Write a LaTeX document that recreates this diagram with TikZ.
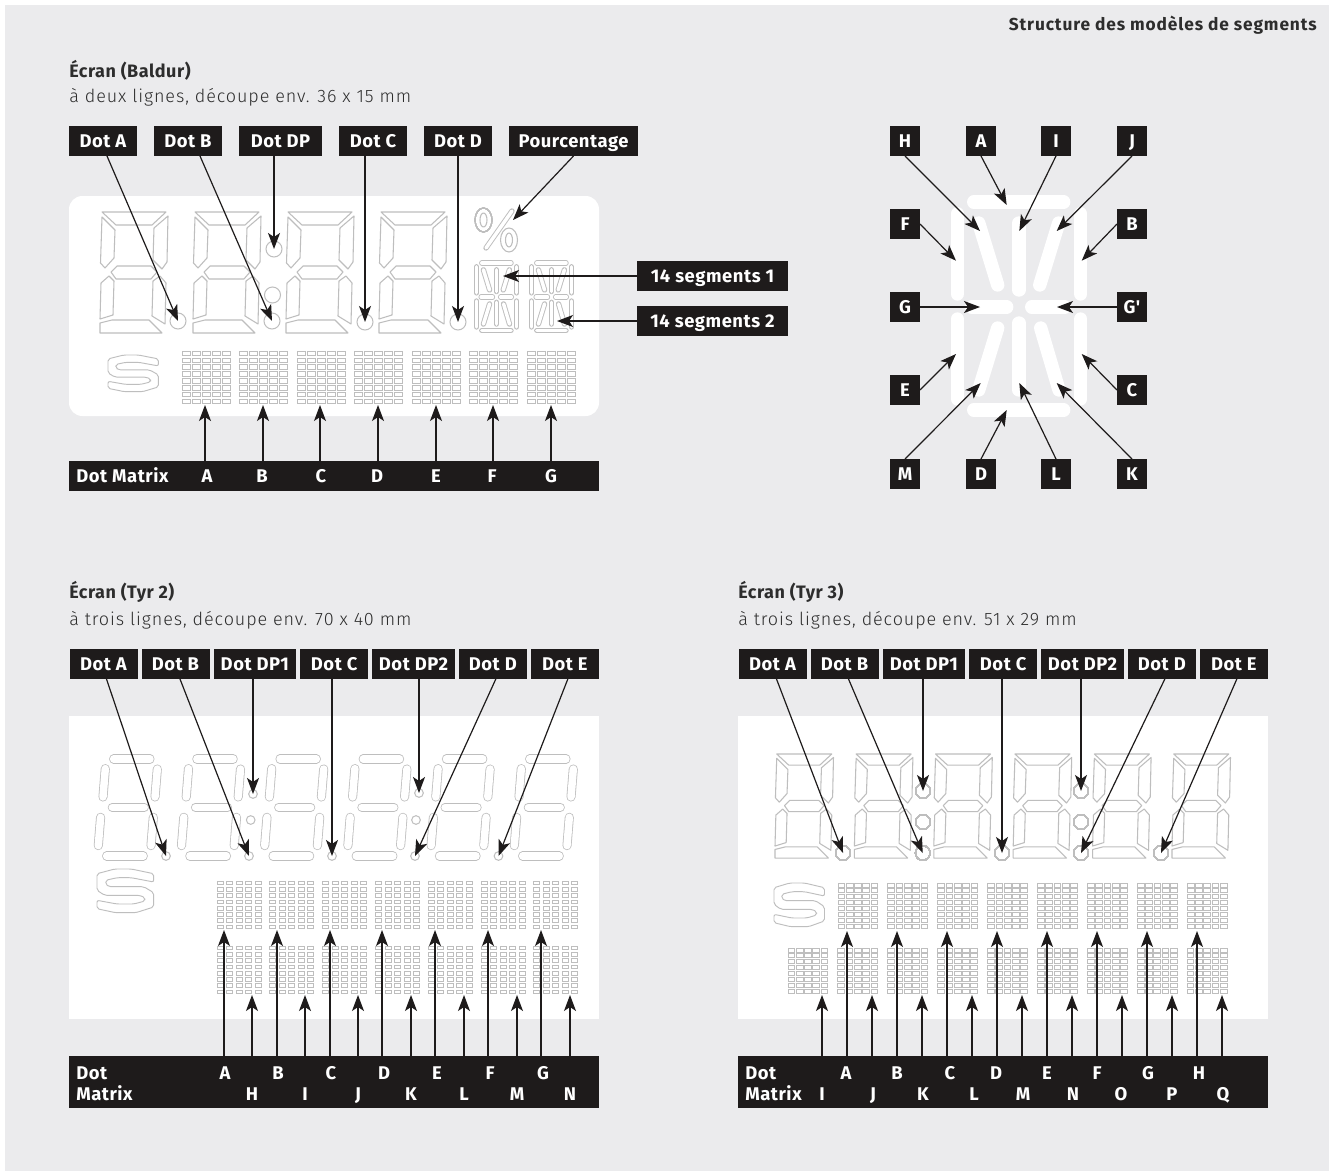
\documentclass[tikz,border=0pt]{standalone}
\usepackage{fontspec}
\setmainfont{Fira Sans}
\newfontfamily\subface{Fira Sans Light}[LetterSpace=5]
\newfontfamily\tagface{Fira Sans}[LetterSpace=3,BoldFont={Fira Sans Bold}]
\newfontfamily\pageface{Fira Sans}[LetterSpace=5,BoldFont={Fira Sans Bold}]
\usetikzlibrary{arrows.meta,positioning,calc}
\definecolor{panelGray}{RGB}{235,235,237}
\definecolor{tagBlack}{RGB}{30,27,27}
\definecolor{segGray}{RGB}{190,190,190}
\definecolor{textGray}{RGB}{45,45,45}
\tikzset{
  tag/.style={fill=tagBlack, text=white, inner sep=0pt, outer sep=0pt, minimum height=22.5pt, text height=9.4pt, text depth=0pt,
              font=\tagface\bfseries\fontsize{13.8}{15}\selectfont},
  sqtag/.style={tag, minimum width=22.5pt},
  barbox/.style={fill=tagBlack, inner sep=0pt, outer sep=0pt, minimum width=397.5pt, anchor=north west},
  barletter/.style={text=white, inner sep=0pt, text height=9.4pt, text depth=0pt,
              font=\tagface\bfseries\fontsize{13.8}{15}\selectfont},
  arrow/.style={-{Stealth[length=12pt,width=9pt,inset=3pt]}, line width=.9pt, draw=tagBlack},
  segline/.style={draw=segGray, line width=.8pt, line join=round},
  cellline/.style={draw=segGray, line width=.55pt, fill=white},
  thickcell/.style={draw=segGray, line width=.75pt, fill=white},
  segdot/.style={circle, draw=segGray, line width=.75pt, inner sep=0pt},
  pill/.style={draw=segGray, line width=.6pt, double=white, double distance=5.6pt, line cap=round},
  smallseg/.style={draw=segGray, line width=.7pt, double=white, double distance=2.6pt, line cap=round},
  bigseg/.style={draw=white, line width=10pt, line cap=round},
  logoline/.style={draw=segGray, line width=.7pt, line join=round, rounded corners=1.5pt},
  headline/.style={anchor=base west, inner sep=0pt, text=textGray, font=\tagface\bfseries\fontsize{13.5}{15}\selectfont},
  subline/.style={anchor=base west, inner sep=0pt, text=textGray, font=\subface\fontsize{13.5}{15}\selectfont}
}
\newcommand{\blockdigit}[3]{
\begin{scope}[shift={(#1,#2)},scale=#3]
\draw[segline] (2,0) -- (66,0) -- (52,13) -- (16,13) -- cycle;
\draw[segline] (2,5) -- (15,18) -- (14,46) -- (5,56) -- (.5,51) -- cycle;
\draw[segline] (68,4) -- (54,16) -- (53,48) -- (62,57) -- (67,50) -- cycle;
\draw[segline] (11,60) -- (17,54) -- (51,54) -- (57,60) -- (51,67) -- (16,67) -- cycle;
\draw[segline] (9,64) -- (14,69) -- (13,103) -- (0,107) -- (1,71) -- cycle;
\draw[segline] (60,64) -- (66,71) -- (65,112) -- (52,104) -- (53,69) -- cycle;
\draw[segline] (0,111) -- (12,108) -- (49,108) -- (62,121) -- (0,121) -- cycle;
\end{scope}
}
\newcommand{\pilldigit}[2]{
\begin{scope}[shift={(#1,#2)}]
\draw[pill] (19.3,4.7) -- (55.7,4.7);
\draw[pill] (11,14.3) -- (8.7,42.7);
\draw[pill] (63,14.7) -- (60.7,42.7);
\draw[pill] (18,53) -- (50,53);
\draw[pill] (6.3,63) -- (4,91.3);
\draw[pill] (59,63) -- (56.7,91.3);
\draw[pill] (12.3,101.7) -- (49,101.7);
\end{scope}
}
\newcommand{\fourteen}[4]{
\begin{scope}[shift={(#1,#2)},scale=#3]
\draw[#4] (23,7) -- (113,7);
\draw[#4] (6.7,18.7) -- (6.7,99);
\draw[#4] (130,18.7) -- (130,99);
\draw[#4] (6.7,124) -- (6.7,204);
\draw[#4] (130,124) -- (130,204);
\draw[#4] (23,215) -- (113,215);
\draw[#4] (21,112) -- (56,112);
\draw[#4] (81,112) -- (114,112);
\draw[#4] (28,28) -- (47,90);
\draw[#4] (68.3,28) -- (68.3,95);
\draw[#4] (108,28) -- (89,90);
\draw[#4] (47,133) -- (28,195);
\draw[#4] (68.3,128) -- (68.3,195);
\draw[#4] (90,133) -- (108.3,195);
\end{scope}
}
\newcommand{\cellgroup}[7][cellline]{
\foreach \ci in {0,...,4}
  \foreach \cj in {0,...,7}
    \draw[#1] (#2+\ci*#4,#3+\cj*#5) rectangle ++(#6,#7);
}
\newcommand{\logoS}[4]{
\begin{scope}[shift={(#1,#2)},xscale=#3,yscale=#4]
\draw[logoline] (56.7,4.7) -- (34.3,0) -- (17.7,0) -- (0,4.7) -- (0,21.3) -- (7.7,26.3) -- (42.7,26.3)
  -- (48,28.7) -- (48,32) -- (36.7,35) -- (20,35) -- (0,31.3) -- (0,39.7) -- (18.7,43.7) -- (38.7,43.7)
  -- (56.7,38) -- (56.7,23.7) -- (46.7,17.7) -- (12,17.7) -- (8.7,15.3) -- (8.7,11.3) -- (20,8.7)
  -- (34.3,8.7) -- (56.7,13) -- cycle;
\end{scope}
}
\newcommand{\tagrow}[2]{
\node[tag, minimum width=51pt, anchor=north west] (#1A) at (#2,649) {Dot A};
\node[tag, minimum width=51pt, right=3pt of #1A] (#1B) {Dot B};
\node[tag, minimum width=62pt, right=3pt of #1B] (#1P) {Dot DP1};
\node[tag, minimum width=51pt, right=3pt of #1P] (#1C) {Dot C};
\node[tag, minimum width=62pt, right=3pt of #1C] (#1Q) {Dot DP2};
\node[tag, minimum width=51pt, right=3pt of #1Q] (#1D) {Dot D};
\node[tag, minimum width=51pt, right=3pt of #1D] (#1E) {Dot E};
}
\begin{document}
\begin{tikzpicture}[x=.75pt, y=-.75pt]
\useasboundingbox (0,0) rectangle (1335,1171);
\fill[white] (0,0) rectangle (1335,1171);
\fill[panelGray] (5,5) rectangle (1329,1171);
\node[anchor=base east, inner sep=0pt, text=textGray, font=\pageface\bfseries\fontsize{13}{15}\selectfont] (pagehead) at (1317,30) {Structure des modèles de segments};

\node[headline] (baHead) at (69,77) {Écran (Baldur)};
\node[subline] (baSub) at (69,102) {à deux lignes, découpe env. 36 x 15 mm};
\fill[white, rounded corners=10pt] (69,196) rectangle (599,416);
\foreach \x in {100,193,286,379} \blockdigit{\x}{212}{1};
\logoS{108}{355}{.89}{.84}
\foreach \i in {0,...,6} \cellgroup{182+57.5*\i}{351}{10}{6.9}{8.2}{4.4}
\draw[segline] (483.5,220) ellipse [x radius=8.5, y radius=12];
\draw[segline] (483.5,220) ellipse [x radius=3.5, y radius=7];
\draw[segline] (509,240) ellipse [x radius=8.5, y radius=12];
\draw[segline] (509,240) ellipse [x radius=3.5, y radius=7];
\draw[smallseg] (512,211) -- (486,248);
\fourteen{474.3}{260.7}{.325}{smallseg}
\fourteen{529.3}{260.7}{.325}{smallseg}
\node[segdot, minimum size=12pt] (baDotA) at (178,321) {};
\node[segdot, minimum size=12pt] (baDotB) at (272,321) {};
\node[segdot, minimum size=12pt] (baDotP) at (274,249) {};
\node[segdot, minimum size=12pt] (baColon) at (272.5,295) {};
\node[segdot, minimum size=12pt] (baDotC) at (365,322) {};
\node[segdot, minimum size=12pt] (baDotD) at (458,322) {};
\node[tag, minimum width=51pt, anchor=north west] (baA) at (69,126) {Dot A};
\node[tag, minimum width=51pt, right=12.75pt of baA] (baB) {Dot B};
\node[tag, minimum width=62.25pt, right=12.75pt of baB] (baP) {Dot DP};
\node[tag, minimum width=51pt, right=12.75pt of baP] (baC) {Dot C};
\node[tag, minimum width=51pt, right=12.75pt of baC] (baD) {Dot D};
\node[tag, minimum width=96.75pt, right=12.75pt of baD] (baPct) {Pourcentage};
\coordinate (baPctEnd) at (513,220);
\draw[arrow] ($(baA.south)+(4,0)$) -- (baDotA.center);
\draw[arrow] ($(baB.south)+(12,0)$) -- (baDotB.center);
\draw[arrow] (baDotP |- baP.south) -- (baDotP.center);
\draw[arrow] (baDotC |- baC.south) -- (baDotC.center);
\draw[arrow] (baDotD |- baD.south) -- (baDotD.center);
\draw[arrow] (baPct.south) -- (baPctEnd);
\node[tag, minimum width=113.25pt, anchor=north west] (baSeg1) at (637,261) {14 segments 1};
\node[tag, minimum width=113.25pt, anchor=north west] (baSeg2) at (637,306) {14 segments 2};
\coordinate (baSeg1End) at (503,276);
\coordinate (baSeg2End) at (557,321);
\draw[arrow] (baSeg1) -- (baSeg1End);
\draw[arrow] (baSeg2) -- (baSeg2End);
\node[barbox, minimum height=22.5pt] (baBar) at (69,461) {};
\node[barletter, anchor=west] (baBarText) at (76,476) {Dot Matrix};
\foreach \l/\x/\lx in {A/205/207,B/263/262,C/320/321,D/378/377,E/436/436,F/493/492,G/551/551}{
  \node[barletter] (baM\l) at (\lx,476) {\l};
  \coordinate (baE\l) at (\x,405);
  \draw[arrow] (baE\l |- baBar.north) -- (baE\l);
}

\fourteen{950.7}{195}{1}{bigseg}
\foreach \n/\t/\x/\y in {H/H/905/141,A/A/981/141,I/I/1056/141,J/J/1132/141,F/F/905/224,B/B/1132/224,G/G/905/307,Gp/G'/1132/307,E/E/905/390,C/C/1132/390,M/M/905/474,D/D/981/474,L/L/1056/474,K/K/1132/474}
  \node[sqtag] (sq\n) at (\x,\y) {\t};
\foreach \n/\a/\x/\y in {H/south/980/231,A/south/1006.7/205,I/south/1019.3/231,J/south/1056.7/231,F/east/956/260.7,B/west/1081.7/260.7,G/east/980/307,Gp/west/1057/307,E/east/956/354,C/west/1081.7/354,M/north/980.7/383,D/north/1006.7/410,L/north/1019.3/383,K/north/1056.7/383}{
  \coordinate (sqEnd\n) at (\x,\y);
  \draw[arrow] (sq\n.\a) -- (sqEnd\n);
}

\node[headline] (tbHead) at (69,598) {Écran (Tyr 2)};
\node[subline] (tbSub) at (69,625) {à trois lignes, découpe env. 70 x 40 mm};
\fill[white] (69,716) rectangle (599,1019);
\foreach \i in {0,...,5} \pilldigit{94.3+83.2*\i}{754.3};
\logoS{97}{869}{1}{1}
\foreach \i in {0,...,6}{
  \cellgroup{217+52.8*\i}{881}{9.5}{6.3}{6}{3.7}
  \cellgroup{217+52.8*\i}{946}{9.5}{6.3}{6}{3.7}
}
\foreach \n/\x/\y in {A/166/856,B/249/856,C/332/856,D/415/856,E/498.5/856,P/253/794,Q/419/793,X/250.7/820,Y/416/820}
  \node[segdot, minimum size=6.5pt] (tbDot\n) at (\x,\y) {};
\tagrow{tb}{69.5}
\draw[arrow] ($(tbA.south)+(3,0)$) -- (tbDotA.center);
\draw[arrow] ($(tbB.south)+(4.5,0)$) -- (tbDotB.center);
\draw[arrow] (tbDotP |- tbP.south) -- (tbDotP.center);
\draw[arrow] (tbDotC |- tbC.south) -- (tbDotC.center);
\draw[arrow] (tbDotQ |- tbQ.south) -- (tbDotQ.center);
\draw[arrow] ($(tbD.south)+(3,0)$) -- (tbDotD.center);
\draw[arrow] ($(tbE.south)+(3,0)$) -- (tbDotE.center);
\node[barbox, minimum height=39pt] (tbBar) at (69,1056) {};
\node[barletter, anchor=west] (tbBarText1) at (76,1073) {Dot};
\node[barletter, anchor=west] (tbBarText2) at (76,1094) {Matrix};
\foreach \l/\lx/\x/\y/\ly in {A/225/224/930/1073,B/278/277/930/1073,C/331/330/930/1073,D/384/382/930/1073,E/437/435/930/1073,F/490/488/930/1073,G/543/541/930/1073,H/252/252/995/1094,I/305/305/995/1094,J/358/358/995/1094,K/411/411/995/1094,L/464/464/995/1094,M/517/517/995/1094,N/570/570/995/1094}{
  \node[barletter] (tbM\l) at (\lx,\ly) {\l};
  \coordinate (tbE\l) at (\x,\y);
  \draw[arrow] (tbE\l |- tbBar.north) -- (tbE\l);
}

\node[headline] (tcHead) at (738,598) {Écran (Tyr 3)};
\node[subline] (tcSub) at (738,625) {à trois lignes, découpe env. 51 x 29 mm};
\fill[white] (738,716) rectangle (1268,1019);
\foreach \i in {0,...,5} \blockdigit{775+79.4*\i}{754}{.86};
\logoS{774}{883}{.89}{1}
\foreach \i in {0,...,7} \cellgroup[thickcell]{838+49.9*\i}{883}{8.3}{5.9}{6.7}{4}
\foreach \i in {0,...,8} \cellgroup[thickcell]{788+49.9*\i}{948}{8.3}{5.9}{6.7}{4}
\foreach \n/\x/\y in {A/843/853,B/922.7/853,C/1002/853,D/1081/853,E/1161/853,P/923/791,Q/1081/791,X/923/822,Y/1081/822}
  \node[segdot, minimum size=11pt] (tcDot\n) at (\x,\y) {};
\tagrow{tc}{738.5}
\draw[arrow] ($(tcA.south)+(4,0)$) -- (tcDotA.center);
\draw[arrow] ($(tcB.south)+(4,0)$) -- (tcDotB.center);
\draw[arrow] (tcDotP |- tcP.south) -- (tcDotP.center);
\draw[arrow] (tcDotC |- tcC.south) -- (tcDotC.center);
\draw[arrow] (tcDotQ |- tcQ.south) -- (tcDotQ.center);
\draw[arrow] ($(tcD.south)+(3,0)$) -- (tcDotD.center);
\draw[arrow] ($(tcE.south)+(3,0)$) -- (tcDotE.center);
\node[barbox, minimum height=39pt] (tcBar) at (738,1056) {};
\node[barletter, anchor=west] (tcBarText1) at (745,1073) {Dot};
\node[barletter, anchor=west] (tcBarText2) at (745,1094) {Matrix};
\foreach \l/\lx/\x/\y/\ly in {A/846/847/931/1073,B/897/897/931/1073,C/950/947/931/1073,D/996/997/931/1073,E/1047/1047/931/1073,F/1097/1097/931/1073,G/1148/1147/931/1073,H/1199/1197/931/1073,I/822/822/995/1094,J/873/872/995/1094,K/923/922/995/1094,L/974/972/995/1094,M/1023/1022/995/1094,N/1073/1072/995/1094,O/1121/1122/995/1094,P/1172/1172/995/1094,Q/1223/1222/995/1094}{
  \node[barletter] (tcM\l) at (\lx,\ly) {\l};
  \coordinate (tcE\l) at (\x,\y);
  \draw[arrow] (tcE\l |- tcBar.north) -- (tcE\l);
}
\end{tikzpicture}
\end{document}
